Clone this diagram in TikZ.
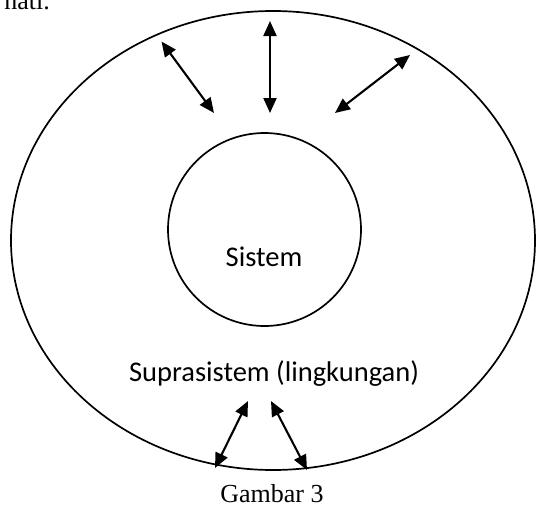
\documentclass[tikz,border=0pt]{standalone}
\usepackage{fontspec}
\setmainfont{Liberation Serif}
\newfontfamily\calibri{Carlito}
\usetikzlibrary{arrows.meta}
\begin{document}
\begin{tikzpicture}[x=1pt,y=-1pt,
  ring/.style={line width=1.7pt},
  flow/.style={line width=2.1pt,{Triangle[length=15pt,width=13pt]}-{Triangle[length=15pt,width=13pt]}},
  sanslabel/.style={font=\calibri\fontsize{28.5}{32}\selectfont,inner sep=0pt,anchor=base},
  seriflabel/.style={font=\fontsize{26}{30}\selectfont,inner sep=0pt,anchor=base}]
\useasboundingbox (0,0) rectangle (536,509);
\clip (0,0) rectangle (536,509);
% partial text at the top
\node[seriflabel,anchor=base east] (top) at (50,9.5) {nati.};
% outer ellipse and inner circle
\draw[ring] (273,240.5) ellipse [x radius=262, y radius=229.5];
\draw[ring] (264.5,229.5) circle [radius=96.5];
\node[sanslabel] (sistem) at (264,266.5) {Sistem};
\node[sanslabel] (supra) at (274,381) {Suprasistem (lingkungan)};
\node[seriflabel] (caption) at (272,502) {Gambar 3};
% arrow ends
\coordinate (a1) at (161.5,41.5); \coordinate (b1) at (214,113);
\coordinate (a2) at (270,21);     \coordinate (b2) at (270,113);
\coordinate (a3) at (410,55);     \coordinate (b3) at (335,113);
\coordinate (a4) at (248,401);    \coordinate (b4) at (215,468);
\coordinate (a5) at (271,401);    \coordinate (b5) at (307,470);
\draw[flow] (a1) -- (b1);
\draw[flow] (a2) -- (b2);
\draw[flow] (a3) -- (b3);
\draw[flow] (a4) -- (b4);
\draw[flow] (a5) -- (b5);
\end{tikzpicture}
\end{document}
